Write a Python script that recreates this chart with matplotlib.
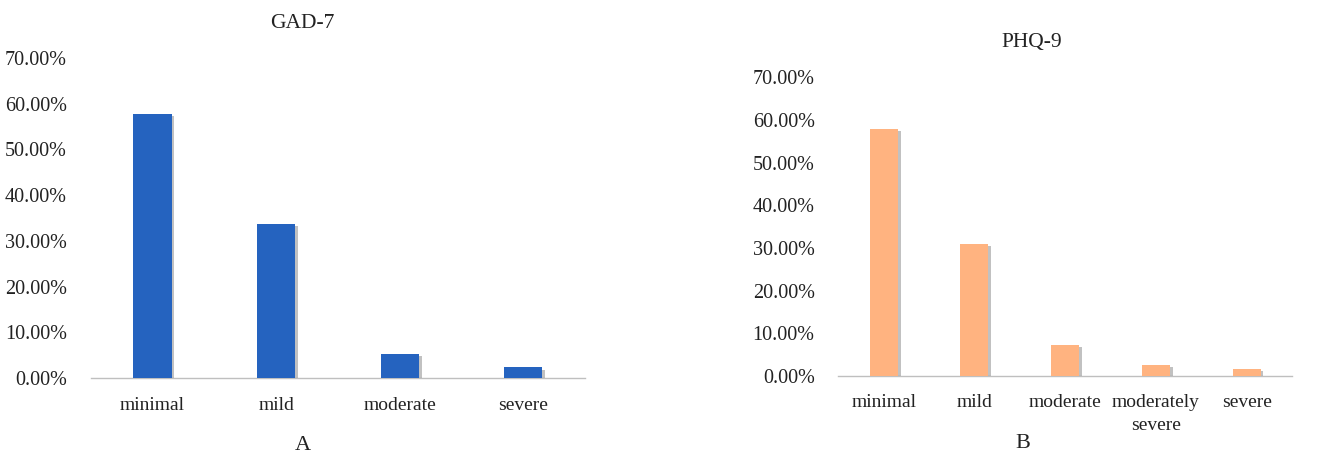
import matplotlib
matplotlib.use("Agg")
import matplotlib.pyplot as plt
import matplotlib.patheffects as pe
from matplotlib.ticker import FuncFormatter

plt.rcParams['font.family'] = ['Liberation Serif', 'DejaVu Serif']

gad_categories = ["minimal", "mild", "moderate", "severe"]
gad_values = [57.7, 33.7, 5.3, 2.3]

phq_categories = ["minimal", "mild", "moderate", "moderately\nsevere", "severe"]
phq_values = [57.8, 30.9, 7.3, 2.5, 1.6]

yticks = [0, 10, 20, 30, 40, 50, 60, 70]

fig = plt.figure(figsize=(13.3, 4.53), dpi=100)

def draw(ax, cats, vals, color, xpad):
    x = list(range(len(cats)))
    bars = ax.bar(x, vals, width=0.31, color=color, zorder=3)
    for b in bars:
        b.set_path_effects([pe.SimplePatchShadow(offset=(2, -1.5), shadow_rgbFace='#777777', alpha=0.45),
                            pe.Normal()])
    ax.set_xlim(-0.5, len(cats) - 0.5)
    ax.set_ylim(0, 70)
    ax.set_yticks(yticks)
    ax.yaxis.set_major_formatter(FuncFormatter(lambda v, p: f"{v:.2f}%"))
    ax.set_xticks(x)
    ax.set_xticklabels(cats, fontsize=14, linespacing=1.45)
    ax.tick_params(axis='y', length=0, pad=17, labelsize=14.5, colors='#222222')
    ax.tick_params(axis='x', length=0, pad=xpad, colors='#222222')
    for s in ['top', 'right', 'left']:
        ax.spines[s].set_visible(False)
    ax.spines['bottom'].set_color('#BFBFBF')
    ax.spines['bottom'].set_linewidth(1.0)

ax1 = fig.add_axes([0.0682, 0.1656, 0.3717, 0.7064])
draw(ax1, gad_categories, gad_values, '#2563BF', 14)
ax2 = fig.add_axes([0.6303, 0.170, 0.3411, 0.6594])
draw(ax2, phq_categories, phq_values, '#FFB380', 13)

fig.text(302 / 1330, 1 - 23 / 453, "GAD-7", ha='center', va='center', fontsize=15.5, color='#222222')
fig.text(1032 / 1330, 1 - 43 / 453, "PHQ-9", ha='center', va='center', fontsize=15.5, color='#222222')
fig.text(303 / 1330, 1 - 445 / 453, "A", ha='center', va='center', fontsize=16, color='#222222')
fig.text(1023 / 1330, 1 - 443 / 453, "B", ha='center', va='center', fontsize=16, color='#222222')

fig.savefig("out.png", dpi=100, facecolor='white')
